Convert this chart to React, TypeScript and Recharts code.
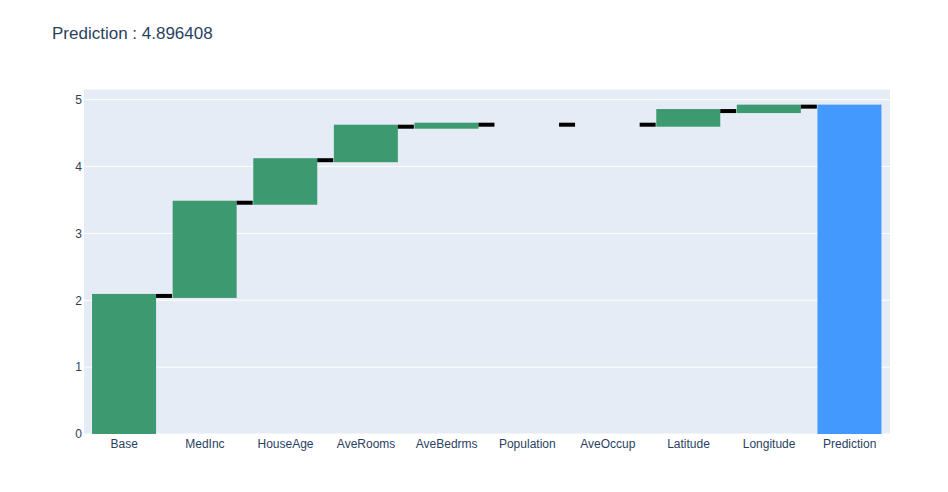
import { BarChart, Bar, XAxis, YAxis, CartesianGrid } from "recharts";

// feature contributions (start at 0, each adds on top)
const features = [
  "Base",
  "MedInc",
  "HouseAge",
  "AveRooms",
  "AveBedrms",
  "Population",
  "AveOccup",
  "Latitude",
  "Longitude",
];
const contributions = [2.065, 1.394, 0.636, 0.501, 0.03, 0, 0, 0.204, 0.066];
const prediction = 4.896408;
const yTicks = [0, 1, 2, 3, 4, 5];

const INC = "#3D9970";
const TOTAL = "#4499FF";
const INK = "#2a3f5f";
const FONT = 'Arial, "Liberation Sans", sans-serif';

type Row = {
  name: string;
  range: [number, number];
  end: number;
  kind: "inc" | "total";
};

function buildRows(): Row[] {
  let run = 0;
  const rows: Row[] = features.map((name, i) => {
    const start = run;
    run += contributions[i];
    return {
      name,
      range: [Math.min(start, run), Math.max(start, run)],
      end: run,
      kind: "inc",
    };
  });
  rows.push({ name: "Prediction", range: [0, prediction], end: prediction, kind: "total" });
  return rows;
}

const rows = buildRows();

function WaterfallBar(props: any) {
  const { x, y, width, height, payload, index } = props;
  const p = payload as Row;
  const levelY = p.end >= p.range[1] ? y : y + height;
  const gap = width / 4;
  // plotly's marker outline makes each bar poke ~2px past its ends
  const top = y - 2;
  const bottom = p.range[0] > 0 ? y + height + 2 : y + height;
  return (
    <g>
      {height > 0.5 && (
        <rect
          x={x}
          y={top}
          width={width}
          height={bottom - top}
          fill={p.kind === "total" ? TOTAL : INC}
        />
      )}
      {index < rows.length - 1 && (
        <rect x={x + width} y={levelY - 2} width={gap} height={4} fill="#000" />
      )}
    </g>
  );
}

export default function App() {
  return (
    <div style={{ position: "relative", width: 948, height: 492, background: "#fff" }}>
      <style>{"body{margin:0}"}</style>
      <BarChart
        width={948}
        height={492}
        data={rows}
        margin={{ top: 89, right: 58, bottom: 28, left: 0 }}
        barCategoryGap="10%"
      >
        <CartesianGrid fill="#E5ECF6" stroke="#fff" vertical={false} strokeWidth={1} />
        <XAxis
          dataKey="name"
          height={30}
          axisLine={false}
          tickLine={false}
          tickSize={0}
          tickMargin={5}
          interval={0}
          tick={{ fontSize: 12, fill: INK, fontFamily: FONT }}
        />
        <YAxis
          width={84}
          domain={[0, 5.16]}
          ticks={yTicks}
          axisLine={false}
          tickLine={false}
          tickSize={0}
          tickMargin={2}
          tick={{ fontSize: 12, fill: INK, fontFamily: FONT }}
        />
        <Bar dataKey="range" shape={WaterfallBar} isAnimationActive={false} />
      </BarChart>
      <svg
        width={948}
        height={60}
        style={{ position: "absolute", left: 0, top: 0, pointerEvents: "none" }}
      >
        <text x={52} y={39} fontSize={17} fill={INK} fontFamily={FONT}>
          Prediction : 4.896408
        </text>
      </svg>
    </div>
  );
}
